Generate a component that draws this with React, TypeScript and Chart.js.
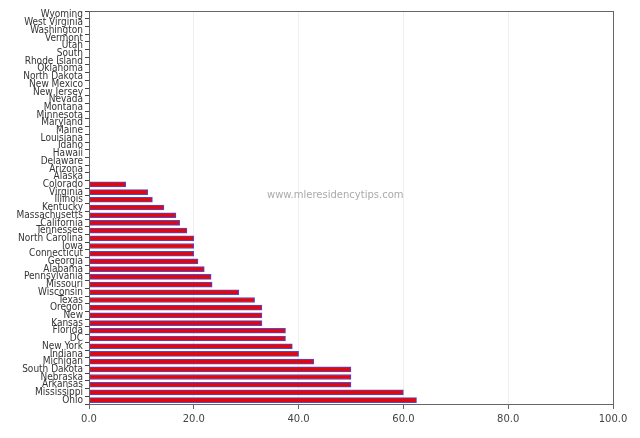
import React, { useEffect, useRef } from "react";
import { Chart, registerables } from "chart.js";

Chart.register(...registerables);

const states: string[] = [
  "Wyoming", "West Virginia", "Washington", "Vermont", "Utah", "South",
  "Rhode Island", "Oklahoma", "North Dakota", "New Mexico", "New Jersey",
  "Nevada", "Montana", "Minnesota", "Maryland", "Maine", "Louisiana",
  "Idaho", "Hawaii", "Delaware", "Arizona", "Alaska", "Colorado",
  "Virginia", "Illinois", "Kentucky", "Massachusetts", "California",
  "Tennessee", "North Carolina", "Iowa", "Connecticut", "Georgia",
  "Alabama", "Pennsylvania", "Missouri", "Wisconsin", "Texas", "Oregon",
  "New", "Kansas", "Florida", "DC", "New York", "Indiana", "Michigan",
  "South Dakota", "Nebraska", "Arkansas", "Mississippi", "Ohio",
];

const values: number[] = [
  0, 0, 0, 0, 0, 0,
  0, 0, 0, 0, 0,
  0, 0, 0, 0, 0, 0,
  0, 0, 0, 0, 0, 7.0,
  11.2, 12.1, 14.3, 16.6, 17.3,
  18.7, 20.0, 20.0, 20.0, 20.8,
  22.0, 23.3, 23.5, 28.6, 31.6, 33.0,
  33.0, 33.0, 37.5, 37.5, 38.8, 40.0, 42.9,
  50.0, 50.0, 50.0, 60.0, 62.5,
];

const xTicks: number[] = [0, 20, 40, 60, 80, 100];

const watermark = "www.mleresidencytips.com";

const framePlugin = {
  id: "frameAndMark",
  afterDatasetsDraw(chart: any) {
    const { ctx, chartArea } = chart;
    ctx.save();
    ctx.strokeStyle = "#666";
    ctx.lineWidth = 1;
    ctx.strokeRect(
      Math.round(chartArea.left) + 0.5,
      Math.round(chartArea.top) + 0.5,
      Math.round(chartArea.right - chartArea.left),
      Math.round(chartArea.bottom - chartArea.top)
    );
    ctx.fillStyle = "#aaaaaa";
    ctx.font = "10px 'DejaVu Sans', Verdana, sans-serif";
    ctx.textAlign = "center";
    ctx.textBaseline = "middle";
    const cx = chartArea.left + (chartArea.right - chartArea.left) * 0.47;
    const cy = chartArea.top + (chartArea.bottom - chartArea.top) * 0.47;
    ctx.fillText(watermark, cx, cy);
    ctx.restore();
  },
};

export default function App() {
  const ref = useRef<HTMLCanvasElement | null>(null);

  useEffect(() => {
    document.body.style.margin = "0";
    const canvas = ref.current;
    if (!canvas) return;
    const chart = new Chart(canvas, {
      type: "bar",
      data: {
        labels: states,
        datasets: [
          {
            data: values,
            backgroundColor: "#e00808",
            borderColor: "#4a4ae0",
            borderWidth: 1,
            borderSkipped: false,
            barThickness: 5,
          },
        ],
      },
      options: {
        indexAxis: "y",
        responsive: false,
        animation: false,
        layout: { padding: { top: 11, right: 27, left: 0, bottom: 0 } },
        plugins: {
          legend: { display: false },
          tooltip: { enabled: false },
        },
        scales: {
          x: {
            min: 0,
            max: 100,
            afterBuildTicks: (scale: any) => {
              scale.ticks = xTicks.map((v) => ({ value: v }));
            },
            afterFit: (scale: any) => {
              scale.height = 34;
            },
            border: { display: true, color: "#666" },
            grid: {
              color: (c: any) =>
                c.tick && (c.tick.value === 0 || c.tick.value === 100)
                  ? "rgba(0,0,0,0)"
                  : "#efefef",
              tickColor: "#666",
              tickLength: 5,
              drawOnChartArea: true,
            },
            ticks: {
              color: "#444",
              font: { family: "'DejaVu Sans', Verdana, sans-serif", size: 10 },
              padding: 4,
              maxRotation: 0,
              callback: (v: any) => Number(v).toFixed(1),
            },
          },
          y: {
            afterFit: (scale: any) => {
              scale.width = 89;
            },
            border: { display: true, color: "#444" },
            grid: {
              drawOnChartArea: false,
              tickColor: "#444",
              tickLength: 4,
              offset: true,
            },
            ticks: {
              autoSkip: false,
              color: "#333",
              padding: 2,
              font: {
                family: "'DejaVu Sans Condensed', 'DejaVu Sans', Verdana, sans-serif",
                size: 10,
                lineHeight: 1,
              },
            },
          },
        },
      },
      plugins: [framePlugin],
    } as any);
    return () => chart.destroy();
  }, []);

  return (
    <div style={{ position: "fixed", left: 0, top: 0, width: 640, height: 438, background: "#fff" }}>
      <canvas ref={ref} width={640} height={438} />
    </div>
  );
}
